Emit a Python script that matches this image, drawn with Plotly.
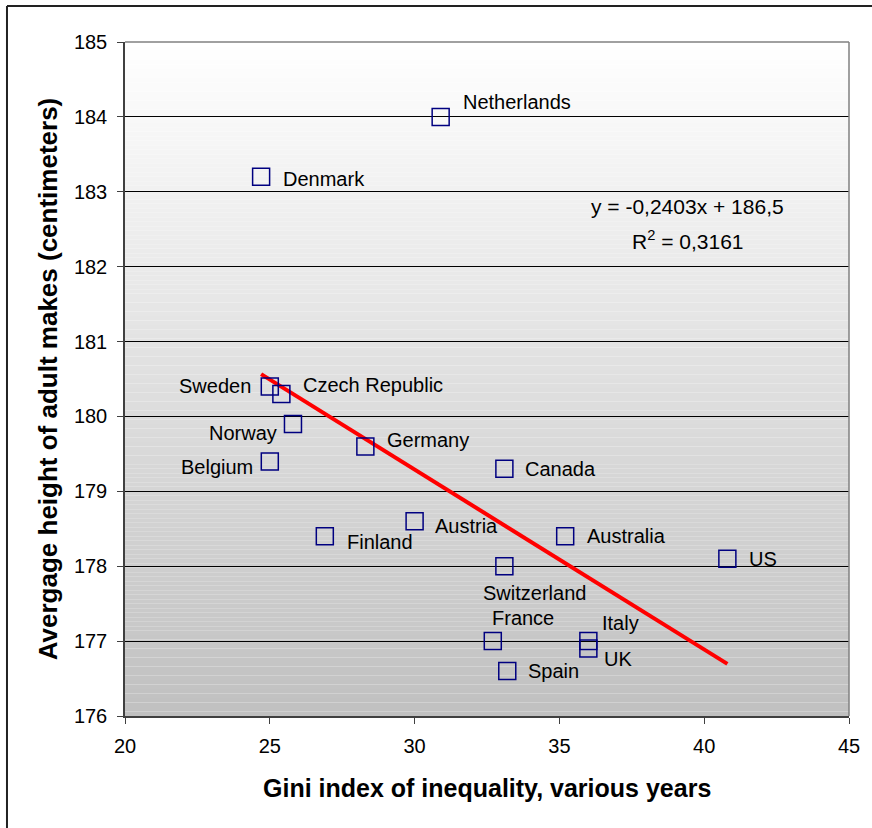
import plotly.graph_objects as go

# ---- data ----
countries = ["Netherlands", "Denmark", "Sweden", "Czech Republic", "Norway", "Belgium",
             "Germany", "Canada", "Finland", "Austria", "Australia", "US",
             "Switzerland", "France", "Italy", "UK", "Spain"]
gini = [30.9, 24.7, 25.0, 25.4, 25.8, 25.0, 28.3, 33.1, 26.9, 30.0, 35.2, 40.8,
        33.1, 32.7, 36.0, 36.0, 33.2]
height = [184.0, 183.2, 180.4, 180.3, 179.9, 179.4, 179.6, 179.3, 178.4, 178.6, 178.4, 178.1,
          178.0, 177.0, 177.0, 176.9, 176.6]
slope = -0.2403
intercept = 186.5
r2 = 0.3161
x_ticks = [20, 25, 30, 35, 40, 45]
y_ticks = [176, 177, 178, 179, 180, 181, 182, 183, 184, 185]

# label placement (pixel offsets from the marker), style only
label_style = {
    "Netherlands": ("left", 20, -15),
    "Denmark": ("left", 20, 2),
    "Sweden": ("right", -17, 0),
    "Czech Republic": ("left", 20, -9),
    "Norway": ("right", -14, 9),
    "Belgium": ("right", -15, 6),
    "Germany": ("left", 20, -6),
    "Canada": ("left", 19, 0),
    "Finland": ("left", 20, 6),
    "Austria": ("left", 18, 5),
    "Australia": ("left", 20, 0),
    "US": ("left", 20, 0),
    "Switzerland": ("center", 30, 27),
    "France": ("center", 30, -23),
    "Italy": ("left", 12, -18),
    "UK": ("left", 14, 10),
    "Spain": ("left", 19, 0),
}

FONT = "Liberation Sans, Arial, sans-serif"

fig = go.Figure()

xmin, xmax = min(gini), max(gini)
fig.add_trace(go.Scatter(
    x=[xmin, xmax], y=[slope * xmin + intercept, slope * xmax + intercept],
    mode="lines", line=dict(color="#ff0000", width=4), hoverinfo="skip", showlegend=False))

fig.add_trace(go.Scatter(
    x=gini, y=height, mode="markers", text=countries,
    marker=dict(symbol="square-open", size=17, color="#000080", line=dict(width=1.5, color="#000080")),
    showlegend=False))

annotations = []
for c, gx, hy in zip(countries, gini, height):
    anc, dx, dy = label_style[c]
    annotations.append(dict(x=gx, y=hy, xref="x", yref="y", text=c, showarrow=False,
                            xanchor=anc, yanchor="middle", xshift=dx, yshift=-dy,
                            font=dict(family=FONT, size=20, color="#000000")))

annotations.append(dict(x=0.7776, y=0.7552, xref="paper", yref="paper",
                        text="y = -0,2403x + 186,5", showarrow=False, xanchor="center", yanchor="middle",
                        font=dict(family=FONT, size=21, color="#000000")))
annotations.append(dict(x=0.7776, y=0.7062, xref="paper", yref="paper",
                        text="R<sup>2</sup> = " + f"{r2:.4f}".replace(".", ","), showarrow=False,
                        xanchor="center", yanchor="middle",
                        font=dict(family=FONT, size=21, color="#000000")))
annotations.append(dict(x=0.5, y=-0.107, xref="paper", yref="paper",
                        text="<b>Gini index of inequality, various years</b>", showarrow=False,
                        xanchor="center", yanchor="middle",
                        font=dict(family=FONT, size=25, color="#000000")))
annotations.append(dict(x=-0.106, y=0.5, xref="paper", yref="paper", textangle=-90,
                        text="<b>Avergage height of adult makes (centimeters)</b>", showarrow=False,
                        xanchor="center", yanchor="middle",
                        font=dict(family=FONT, size=26, color="#000000")))

# gradient background (white at top to grey at bottom)
shapes = []
N = 150
for i in range(N):
    t = (i + 0.5) / N  # 0 bottom -> 1 top
    v = int(round(0xc0 + (0xff - 0xc0) * t))
    shapes.append(dict(type="rect", xref="paper", yref="paper", x0=0, x1=1,
                       y0=i / N, y1=(i + 1) / N, fillcolor=f"rgb({v},{v},{v})",
                       line=dict(width=0), layer="below"))
# plot area top/right border
shapes.append(dict(type="line", xref="paper", yref="paper", x0=0, x1=1, y0=1, y1=1,
                   line=dict(color="#808080", width=1.5)))
shapes.append(dict(type="line", xref="paper", yref="paper", x0=1, x1=1, y0=0, y1=1,
                   line=dict(color="#808080", width=1.5)))
# outer chart frame (top and left visible)
shapes.append(dict(type="line", xref="paper", yref="paper", x0=-0.163, x1=1.1, y0=1.0534, y1=1.0534,
                   line=dict(color="#222222", width=2)))
shapes.append(dict(type="line", xref="paper", yref="paper", x0=-0.163, x1=-0.163, y0=-0.2, y1=1.0534,
                   line=dict(color="#222222", width=2)))

fig.update_layout(
    width=872, height=828,
    margin=dict(l=125, r=23, t=42, b=112),
    paper_bgcolor="#ffffff", plot_bgcolor="#ffffff",
    annotations=annotations, shapes=shapes,
    font=dict(family=FONT, size=20, color="#000000"),
)
fig.update_xaxes(range=[20, 45], tickvals=x_ticks, ticktext=[str(v) for v in x_ticks],
                 showgrid=False, zeroline=False, showline=True, linecolor="#404040", linewidth=1.5,
                 ticks="outside", ticklen=6, tickcolor="#404040", tickfont=dict(size=20, family=FONT))
fig.update_xaxes(ticklabelstandoff=5)
fig.update_yaxes(range=[176, 185], tickvals=y_ticks, ticktext=[str(v) for v in y_ticks],
                 showgrid=True, gridcolor="#000000", gridwidth=1, zeroline=False,
                 showline=True, linecolor="#404040", linewidth=1.5,
                 ticks="outside", ticklen=6, tickcolor="#404040", tickfont=dict(size=20, family=FONT))
fig.update_yaxes(ticklabelstandoff=6)

fig.write_html("out.html", config={"displayModeBar": False},
               post_script="document.body.style.margin='0';document.body.style.overflow='hidden';")
